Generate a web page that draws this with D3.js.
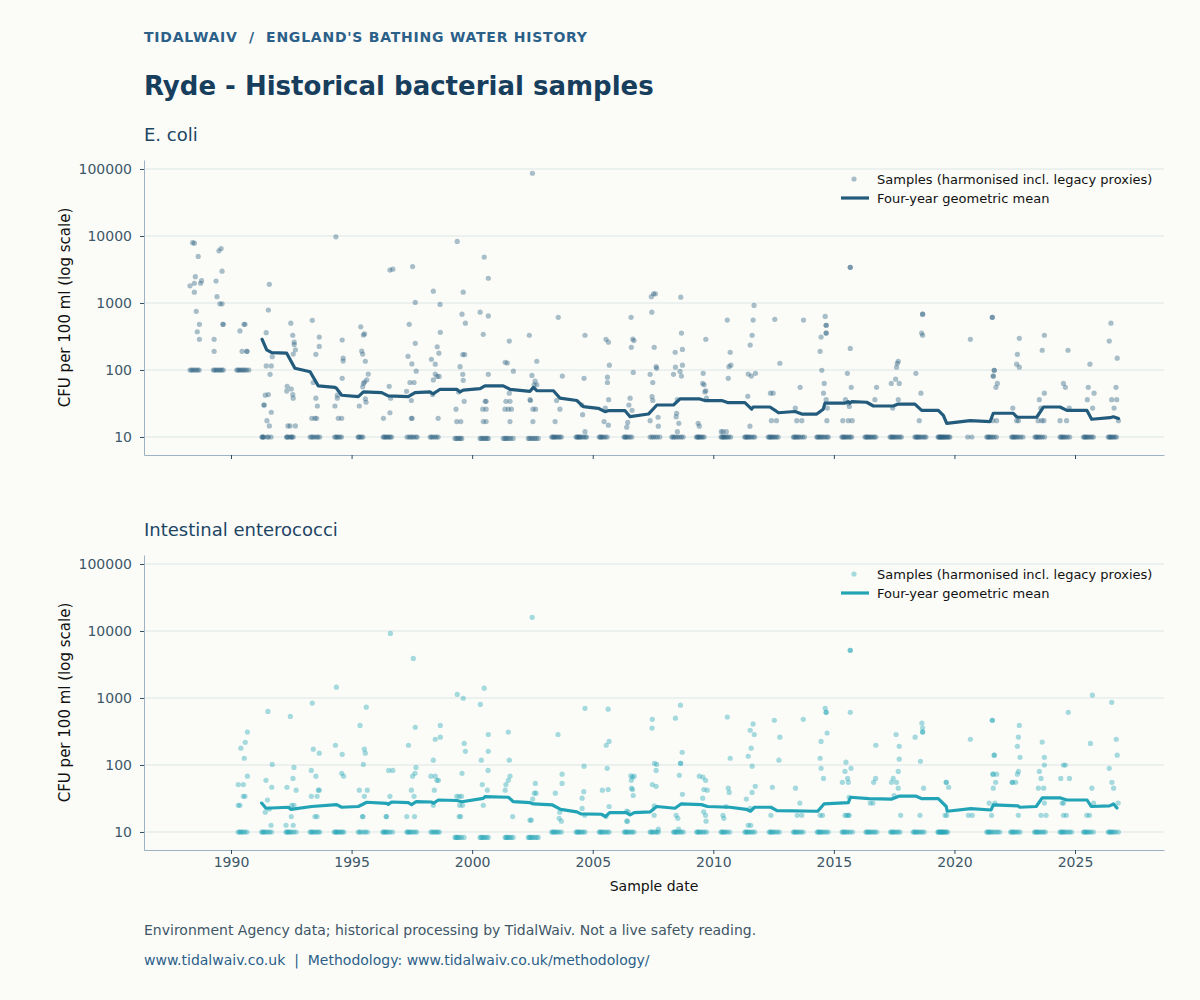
<!DOCTYPE html>
<html><head><meta charset="utf-8">
<script src="https://cdn.jsdelivr.net/npm/d3@7"></script>
<style>
html,body{margin:0;padding:0;background:#fbfcf8;}
svg{display:block;font-family:"DejaVu Sans",sans-serif;}
</style></head><body>
<svg id="chart" width="1200" height="1000"></svg>
<script>
// ---------- data ----------
const yearTicks = [1990, 1995, 2000, 2005, 2010, 2015, 2020, 2025];
const cfuTicks = [10, 100, 1000, 10000, 100000];
const panelTitles = ["E. coli", "Intestinal enterococci"];
const legendLabels = ["Samples (harmonised incl. legacy proxies)", "Four-year geometric mean"];

// E. coli samples [decimal year, CFU/100ml] (values above the reporting floor)
const ecoliSamples = [
 [1988.30,1800],[1988.41,7950],[1988.48,7800],[1988.48,1970],[1988.48,1450],[1988.52,2470],[1988.56,750],[1988.64,4950],[1988.69,480],[1988.60,372],[1988.69,287],[1988.74,1970],[1988.78,2150],
 [1988.30,100],[1988.36,100],[1988.42,100],[1988.48,100],[1988.55,100],[1988.62,100],[1988.68,100],
 [1989.30,287],[1989.30,190],[1989.38,2130],[1989.42,1240],[1989.50,6000],[1989.59,6500],[1989.63,2980],[1989.54,970],[1989.63,970],[1989.67,480],[1989.67,480],
 [1989.27,100],[1989.32,100],[1989.38,100],[1989.44,100],[1989.50,100],[1989.56,100],[1989.62,100],[1989.68,100],
 [1990.37,383],[1990.46,190],[1990.54,480],[1990.58,480],[1990.66,190],[1990.66,190],
 [1990.24,100],[1990.29,100],[1990.34,100],[1990.40,100],[1990.46,100],[1990.52,100],[1990.58,100],[1990.65,100],[1990.74,100],
 [1991.37,30],[1991.42,42],[1991.46,115],[1991.49,17.5],[1991.55,43],[1991.55,785],[1991.59,1900],[1991.59,14.6],[1991.62,86],[1991.67,115],[1991.67,23.4],[1991.71,158],[1991.46,360],[1991.37,30],
 [1992.31,48.5],[1992.33,57],[1992.36,14.6],[1992.48,500],[1992.50,52],[1992.56,43],[1992.56,330],[1992.58,38],[1992.58,173],[1992.62,260],[1992.62,240],[1992.67,200],[1992.67,14.6],[1992.45,14.6],
 [1993.37,550],[1993.66,310],[1993.66,225],[1993.52,171],[1993.41,65],[1993.52,38],[1993.58,29],[1993.35,19],[1993.48,19],[1993.55,19],
 [1994.35,9700],[1994.31,29],[1994.41,38],[1994.45,19],[1994.59,19],[1994.61,280],[1994.65,150],[1994.65,136],[1994.61,75],[1994.41,42],
 [1995.32,29],[1995.38,440],[1995.42,192],[1995.46,173],[1995.49,333],[1995.54,345],[1995.57,135],[1995.57,37],[1995.54,66],[1995.63,71],[1995.69,87],[1995.46,56],[1995.60,33],[1995.49,63],
 [1996.32,19],[1996.56,57],[1996.59,23],[1996.62,38],[1996.59,3100],[1996.71,3200],
 [1997.39,480],[1997.53,3500],[1997.64,1020],[1997.64,250],[1997.34,160],[1997.50,123],[1997.68,96],[1997.42,65],[1997.59,65],[1997.28,48],[1997.48,19],[1997.51,19],[1997.48,35],
 [1998.39,1500],[1998.67,950],[1998.68,365],[1998.55,222],[1998.62,178],[1998.31,144],[1998.47,122],[1998.47,87],[1998.55,80],[1998.63,80],[1998.39,71],[1998.59,19],[1998.36,43],
 [1999.38,8300],[1999.63,1450],[1999.58,680],[1999.72,500],[1999.61,170],[1999.69,170],[1999.50,112],[1999.61,86],[1999.63,70],[1999.67,34],[1999.33,26],[1999.36,17],[1999.53,17],[1999.44,47],
 [2000.50,4850],[2000.67,2340],[2000.33,730],[2000.67,640],[2000.46,340],[2000.67,86],[2000.54,34],[2000.58,34],[2000.44,26],[2000.58,26],[2000.46,17],[2000.58,17],
 [2001.37,130],[2001.46,127],[2001.54,270],[2001.71,96],[2001.40,34],[2001.57,34],[2001.36,26],[2001.50,26],[2001.63,26],[2001.54,45],[2001.57,17],
 [2002.50,86300],[2002.37,330],[2002.68,135],[2002.48,83],[2002.61,68],[2002.57,60],[2002.68,60],[2002.40,36],[2002.42,35],[2002.52,26],[2002.63,26],[2002.52,17],
 [2003.57,610],[2003.74,81],[2003.44,17],[2003.64,26],[2003.50,35],
 [2004.68,330],[2004.64,75],[2004.58,21.5],[2004.68,12],[2004.55,30],
 [2005.55,287],[2005.65,260],[2005.69,118],[2005.61,78],[2005.61,65],[2005.66,36],[2005.47,17],[2005.65,15],[2005.52,27],
 [2006.59,610],[2006.66,290],[2006.71,275],[2006.60,218],[2006.68,92],[2006.55,38],[2006.63,25],[2006.45,16.5],[2006.41,14],[2006.50,30],
 [2007.43,1240],[2007.52,1370],[2007.60,1370],[2007.45,730],[2007.55,218],[2007.63,112],[2007.65,106],[2007.38,86],[2007.49,65],[2007.46,40],[2007.49,35],[2007.71,19.7],[2007.38,17.5],[2007.72,14.5],
 [2008.65,1220],[2008.68,355],[2008.72,203],[2008.42,184],[2008.43,110],[2008.72,118],[2008.35,86],[2008.62,95],[2008.68,81],[2008.51,36],[2008.48,22.6],[2008.46,20],[2008.57,16],[2008.51,12],
 [2009.69,287],[2009.58,89],[2009.56,63],[2009.62,60],[2009.65,47],[2009.69,49],[2009.72,38],[2009.37,16],[2009.42,14.5],
 [2010.58,555],[2010.70,184],[2010.65,112],[2010.73,118],[2010.62,75],[2010.33,12],[2010.40,12],[2010.54,12],
 [2011.69,920],[2011.65,555],[2011.61,330],[2011.53,235],[2011.75,89],[2011.45,87],[2011.58,81],[2011.43,40.5],[2011.52,14.5],
 [2012.55,570],[2012.76,126],[2012.37,45],[2012.48,45],[2012.41,17.5],[2012.62,17.5],
 [2013.74,555],[2013.60,55],[2013.40,27],[2013.46,17.5],[2013.67,17.5],
 [2014.68,465],[2014.68,465],[2014.68,355],[2014.68,355],[2014.64,630],[2014.47,310],[2014.43,190],[2014.50,99],[2014.60,63],[2014.57,45],[2014.68,36],[2014.73,27],[2014.71,17.5],
 [2015.68,3400],[2015.68,3400],[2015.68,210],[2015.56,89],[2015.72,55],[2015.48,36],[2015.60,32],[2015.64,28.5],[2015.37,17.5],[2015.60,17.5],[2015.76,17.5],
 [2016.70,36],[2016.77,55],
 [2017.67,135],[2017.60,110],[2017.56,73],[2017.71,63],[2017.63,126],[2017.38,63],[2017.44,27],[2017.67,36],
 [2018.68,680],[2018.68,680],[2018.64,355],[2018.68,330],[2018.40,89],[2018.61,45],[2018.54,17.5],
 [2020.66,287],
 [2021.57,610],[2021.57,610],[2021.65,99],[2021.65,99],[2021.61,81],[2021.61,81],[2021.78,63],[2021.72,55],[2021.59,17.5],[2021.75,17.5],
 [2022.69,297],[2022.61,171],[2022.58,122],[2022.69,110],[2022.42,27],[2022.58,17.5],[2022.65,17.5],
 [2023.73,330],[2023.64,197],[2023.73,45],[2023.52,36],[2023.58,27],[2023.47,17.5],[2023.62,17.5],[2023.71,17.5],
 [2024.71,197],[2024.52,63],[2024.60,55],[2024.76,27],[2024.38,17.5],[2024.65,17.5],
 [2025.62,122],[2025.55,55],[2025.79,45],[2025.51,36],[2025.73,27],
 [2026.49,500],[2026.42,270],[2026.75,150],[2026.70,55],[2026.52,36],[2026.73,36],[2026.62,27],[2026.80,17.5]
];
// E. coli samples at the reporting floor (10) and slightly below (9.5)
const ecoliFloorValue = 10;
const ecoliFloorDates = [
 1991.28,1991.31,1991.33,1991.36,1991.50,1991.55,1991.66,
 1992.30,1992.33,1992.36,1992.45,1992.50,1992.53,1992.58,
 1993.28,1993.34,1993.40,1993.46,1993.55,1993.60,1993.68,
 1994.30,1994.35,1994.40,1994.44,1994.52,1994.58,
 1995.27,1995.30,1995.35,1995.41,1995.47,
 1996.31,1996.35,1996.40,1996.44,1996.50,1996.55,1996.60,1996.66,
 1997.30,1997.38,1997.44,1997.51,1997.57,1997.66,1997.72,
 1998.26,1998.31,1998.37,1998.45,1998.52,1998.59,
 2003.30,2003.34,2003.38,2003.42,2003.47,2003.52,2003.58,2003.64,2003.70,
 2004.31,2004.35,2004.38,2004.42,2004.46,2004.50,2004.56,2004.62,2004.70,2004.74,
 2005.27,2005.31,2005.35,2005.39,2005.45,2005.52,2005.60,
 2006.30,2006.33,2006.37,2006.42,2006.47,2006.55,2006.62,
 2007.38,2007.45,2007.52,2007.60,2007.68,2007.78,
 2008.28,2008.33,2008.38,2008.45,2008.52,2008.60,2008.68,2008.75,
 2009.30,2009.34,2009.37,2009.41,2009.45,2009.50,2009.56,2009.62,
 2010.32,2010.36,2010.40,2010.44,2010.48,2010.53,2010.58,2010.64,2010.72,
 2011.30,2011.34,2011.38,2011.42,2011.47,2011.52,2011.58,2011.66,2011.72,
 2012.28,2012.32,2012.36,2012.40,2012.45,2012.50,2012.56,2012.62,2012.69,
 2013.32,2013.36,2013.40,2013.45,2013.50,2013.55,2013.62,2013.70,2013.78,
 2014.29,2014.33,2014.37,2014.42,2014.47,2014.52,2014.58,2014.65,2014.72,2014.77,
 2015.33,2015.37,2015.41,2015.46,2015.50,2015.56,2015.62,2015.68,2015.74,
 2016.29,2016.33,2016.37,2016.41,2016.46,2016.51,2016.56,2016.62,2016.68,2016.74,
 2017.33,2017.37,2017.41,2017.45,2017.50,2017.55,2017.61,2017.67,2017.74,2017.80,
 2018.36,2018.40,2018.44,2018.48,2018.52,2018.57,2018.63,2018.70,2018.77,2018.82,
 2019.32,2019.35,2019.38,2019.41,2019.44,2019.47,2019.50,2019.53,2019.56,2019.60,2019.64,2019.68,2019.72,2019.77,2019.81,
 2020.55,2020.72,
 2021.34,2021.38,2021.42,2021.47,2021.52,2021.58,2021.65,2021.74,
 2022.37,2022.41,2022.45,2022.50,2022.55,2022.60,2022.67,2022.75,2022.84,
 2023.34,2023.38,2023.42,2023.47,2023.52,2023.58,2023.65,2023.74,
 2024.38,2024.42,2024.46,2024.51,2024.56,2024.62,2024.69,2024.78,
 2025.35,2025.39,2025.43,2025.47,2025.52,2025.57,2025.63,2025.70,2025.76,
 2026.38,2026.42,2026.46,2026.50,2026.55,2026.60,2026.66,2026.72
];
const ecoliSubFloorValue = 9.5;
const ecoliSubFloorDates = [
 1999.29,1999.34,1999.40,1999.46,1999.52,1999.57,
 2000.33,2000.38,2000.44,2000.50,2000.56,2000.62,2000.67,
 2001.29,2001.35,2001.40,2001.46,2001.53,2001.60,2001.70,
 2002.33,2002.38,2002.45,2002.52,2002.59,2002.66,2002.74
];
// E. coli four-year geometric mean
const ecoliMeanDates = [1991.29,1991.48,1991.69,1992.31,1992.65,1993.28,1993.62,1994.31,1994.38,1994.59,1995.28,1995.49,1996.25,1996.52,1997.35,1997.63,1998.25,1998.38,1998.67,1999.36,1999.50,1999.63,2000.33,2000.53,2001.29,2001.57,2002.40,2002.54,2002.68,2003.37,2003.64,2004.34,2004.61,2005.23,2005.51,2005.65,2006.34,2006.55,2007.31,2007.66,2008.35,2008.62,2009.44,2009.65,2010.35,2010.62,2011.31,2011.59,2011.65,2012.35,2012.56,2012.70,2013.39,2013.67,2014.29,2014.56,2014.63,2015.46,2015.60,2015.67,2015.74,2016.36,2016.64,2017.46,2017.67,2018.36,2018.64,2019.33,2019.54,2019.68,2020.65,2021.48,2021.61,2022.44,2022.58,2022.65,2023.41,2023.69,2024.38,2024.66,2025.49,2025.69,2026.45,2026.59,2026.80];
const ecoliMeanValues = [287,199,181,178,106,94,58,55,53,42,40,47,46,41,40,46,47,44,51.5,51.5,47,50,52.6,58,58,51.5,48,55,49,49,38,35,28.3,26.8,23.9,24.7,24.7,20.1,22,30,30,37,37,35,35,32.5,32.5,26,28,28,25,23,24,22,22,26,32,32,33.6,32,33.6,33,29,29,31,31,25,25,21,16,17.5,17,22.6,22.6,20,19.7,19.7,28,28,25,25,18.4,19.4,20,18.8];

// Intestinal enterococci samples [decimal year, CFU/100ml]
const enteroSamples = [
 [1990.30,51],[1990.37,25],[1990.30,25],[1990.41,178],[1990.51,51],[1990.51,34],[1990.55,126],[1990.59,218],[1990.68,310],[1990.68,68],[1990.58,34],
 [1991.45,59],[1991.53,630],[1991.51,30],[1991.69,46.5],[1991.71,102],[1991.42,19.7],[1991.66,12.6],[1991.59,22],
 [1992.46,530],[1992.61,92],[1992.57,63],[1992.32,46.5],[1992.70,42],[1992.52,25],[1992.61,25],[1992.50,17],[1992.58,12.6],[1992.28,12.6],
 [1993.37,840],[1993.41,172],[1993.33,83],[1993.52,68],[1993.62,42],[1993.66,42],[1993.33,34],[1993.57,34],[1993.48,17],[1993.57,17],[1993.66,150],
 [1994.37,1450],[1994.33,197],[1994.61,144],[1994.59,75],[1994.67,68],
 [1995.35,390],[1995.61,730],[1995.53,172],[1995.57,150],[1995.49,102],[1995.32,42],[1995.65,42],[1995.53,34],[1995.45,17],[1995.47,17],
 [1996.61,9200],[1996.54,83],[1996.71,83],[1996.59,34],[1996.43,17],[1996.45,17],
 [1997.56,3900],[1997.64,365],[1997.36,197],[1997.67,92],[1997.63,75],[1997.53,68],[1997.48,42],[1997.59,34],[1997.29,17],[1997.61,17],
 [1998.68,390],[1998.68,260],[1998.47,242],[1998.39,118],[1998.29,68],[1998.47,68],[1998.60,59],[1998.54,59],[1998.43,42],[1998.39,25],
 [1999.38,1130],[1999.63,990],[1999.67,210],[1999.72,160],[1999.58,75],[1999.36,34],[1999.46,34],[1999.56,34],[1999.48,25],[1999.60,25],[1999.46,17],[1999.52,17],
 [2000.34,800],[2000.50,1400],[2000.38,118],[2000.67,285],[2000.67,160],[2000.66,83],[2000.42,51],[2000.63,42],[2000.46,25],
 [2001.50,310],[2001.54,118],[2001.57,68],[2001.50,59],[2001.40,51],[2001.37,42],[2001.68,17],
 [2002.49,16000],[2002.62,53],[2002.58,38],[2002.65,38],[2002.51,31],[2002.40,15],[2002.45,15],
 [2003.56,285],[2003.73,73],[2003.73,53],[2003.45,38],[2003.63,19.7],[2003.70,14.5],[2003.61,16],
 [2004.68,700],[2004.64,96],[2004.63,40],[2004.56,32],[2004.56,22.5],[2004.67,17.7],
 [2005.64,680],[2005.68,225],[2005.56,197],[2005.60,89],[2005.64,43],[2005.40,42],[2005.68,24],[2005.55,17],
 [2006.58,69],[2006.65,66],[2006.72,68],[2006.60,59],[2006.61,45],[2006.65,43],[2006.68,35],[2006.41,20.5],[2006.47,20],[2006.41,14.5],[2006.44,14.5],
 [2007.47,480],[2007.46,355],[2007.56,106],[2007.65,102],[2007.63,83],[2007.47,51],[2007.63,48],[2007.55,24.5],[2007.55,17.7],[2007.72,11],
 [2008.64,780],[2008.43,500],[2008.71,155],[2008.64,106],[2008.65,106],[2008.59,70],[2008.72,36.5],[2008.46,17.7],[2008.53,16],[2008.56,11],
 [2009.42,68],[2009.57,66],[2009.68,59],[2009.61,43],[2009.75,42],[2009.56,32],[2009.60,20],[2009.68,17.7],[2009.70,14.5],
 [2010.58,520],[2010.70,126],[2010.62,45],[2010.66,39],[2010.40,17.7],[2010.44,16],[2010.53,24],
 [2011.53,330],[2011.65,410],[2011.70,285],[2011.57,178],[2011.45,135],[2011.61,96],[2011.74,48],[2011.61,39],[2011.37,31],[2011.52,22.5],[2011.45,12.6],[2011.55,12.6],
 [2012.53,465],[2012.76,260],[2012.72,118],[2012.45,46.5],[2012.39,17.7],
 [2013.73,480],[2013.41,45],[2013.59,27],[2013.48,17.7],[2013.67,17.7],
 [2014.64,700],[2014.68,610],[2014.68,610],[2014.72,300],[2014.47,225],[2014.43,126],[2014.47,89],[2014.57,63],[2014.43,17.7],[2014.53,17.7],
 [2015.68,5150],[2015.68,5150],[2015.68,610],[2015.50,110],[2015.46,80],[2015.57,63],[2015.60,55],[2015.35,55],[2015.71,89],[2015.63,33],[2015.60,17.7],[2015.46,17.7],[2015.53,17.7],[2015.63,17.7],
 [2016.74,197],[2016.73,63],[2016.65,55],[2016.51,27],[2016.62,27],
 [2017.58,285],[2017.71,190],[2017.71,122],[2017.67,80],[2017.39,55],[2017.60,55],[2017.46,63],[2017.67,45],[2017.50,35],[2017.77,17.7],
 [2018.37,260],[2018.65,420],[2018.68,355],[2018.68,310],[2018.68,310],[2018.59,113],[2018.72,45],[2018.57,17.7],
 [2019.66,55],[2019.66,55],[2019.76,46.5],[2019.61,17.7],[2019.68,17.7],
 [2020.66,242],[2020.58,17.7],[2020.74,17.7],
 [2021.57,465],[2021.57,465],[2021.65,140],[2021.65,140],[2021.60,73],[2021.60,73],[2021.75,73],[2021.71,55],[2021.61,45],[2021.44,27],[2021.68,27],[2021.54,17.7],
 [2022.69,390],[2022.65,260],[2022.61,190],[2022.72,130],[2022.65,80],[2022.61,73],[2022.40,55],[2022.40,55],[2022.54,55],[2022.65,17.7],
 [2023.64,220],[2023.73,130],[2023.73,100],[2023.52,80],[2023.59,63],[2023.48,45],[2023.70,45],[2023.73,27],[2023.59,17.7],[2023.80,17.7],
 [2024.72,610],[2024.52,100],[2024.60,100],[2024.41,63],[2024.77,63],[2024.47,27],[2024.52,27],[2024.52,17.7],[2024.64,17.7],
 [2025.72,1100],[2025.64,210],[2025.70,45],[2025.49,17.7],[2025.60,17.7],[2025.77,27],
 [2026.52,860],[2026.71,242],[2026.75,140],[2026.42,89],[2026.53,55],[2026.60,45],[2026.79,27]
];
const enteroFloorValue = 10;
const enteroFloorDates = [
 1990.30,1990.35,1990.40,1990.45,1990.51,1990.58,1990.66,
 1991.27,1991.31,1991.35,1991.40,1991.46,1991.53,1991.60,1991.68,
 1992.28,1992.32,1992.36,1992.40,1992.46,1992.52,1992.60,1992.70,
 1993.28,1993.32,1993.37,1993.42,1993.48,1993.55,1993.62,1993.68,
 1994.28,1994.32,1994.36,1994.40,1994.45,1994.50,1994.56,1994.62,1994.68,
 1995.28,1995.33,1995.40,1995.50,1995.58,1995.66,
 1996.29,1996.33,1996.37,1996.41,1996.46,1996.52,1996.60,1996.70,
 1997.29,1997.33,1997.37,1997.42,1997.48,1997.55,1997.63,1997.70,
 1998.29,1998.34,1998.40,1998.46,1998.52,1998.58,1998.64,
 2003.30,2003.34,2003.38,2003.43,2003.48,2003.54,2003.61,2003.70,
 2004.31,2004.35,2004.39,2004.43,2004.48,2004.54,2004.61,2004.68,
 2005.27,2005.31,2005.35,2005.40,2005.46,2005.53,2005.61,2005.68,
 2006.31,2006.35,2006.39,2006.44,2006.50,2006.57,2006.64,2006.71,
 2007.38,2007.42,2007.47,2007.53,2007.60,2007.67,2007.72,
 2008.35,2008.39,2008.43,2008.48,2008.54,2008.61,2008.68,2008.76,
 2009.31,2009.35,2009.39,2009.44,2009.50,2009.57,2009.64,2009.72,
 2010.32,2010.36,2010.40,2010.45,2010.51,2010.58,2010.68,
 2011.31,2011.35,2011.39,2011.44,2011.50,2011.57,2011.64,2011.72,
 2012.32,2012.36,2012.40,2012.45,2012.51,2012.58,2012.66,2012.74,
 2013.32,2013.36,2013.40,2013.45,2013.51,2013.58,2013.65,2013.73,
 2014.31,2014.35,2014.39,2014.43,2014.48,2014.54,2014.61,2014.69,2014.77,
 2015.34,2015.38,2015.42,2015.47,2015.53,2015.60,2015.68,2015.78,
 2016.33,2016.37,2016.41,2016.46,2016.51,2016.57,2016.64,2016.70,2016.78,
 2017.35,2017.39,2017.43,2017.48,2017.53,2017.60,2017.67,2017.74,
 2018.29,2018.33,2018.37,2018.42,2018.47,2018.53,2018.60,2018.67,2018.75,
 2019.31,2019.34,2019.37,2019.40,2019.43,2019.46,2019.49,2019.52,2019.55,2019.59,2019.63,2019.67,2019.72,
 2021.34,2021.38,2021.42,2021.46,2021.51,2021.57,2021.64,2021.72,2021.80,2021.88,
 2022.33,2022.37,2022.41,2022.46,2022.51,2022.57,2022.64,2022.72,
 2023.32,2023.36,2023.40,2023.45,2023.50,2023.56,2023.63,2023.70,2023.77,
 2024.38,2024.42,2024.46,2024.51,2024.56,2024.62,2024.70,2024.78,2024.86,
 2025.35,2025.39,2025.43,2025.48,2025.53,2025.59,2025.66,2025.76,
 2026.38,2026.42,2026.46,2026.51,2026.56,2026.62,2026.69,2026.80
];
const enteroSubFloorValue = 8.3;
const enteroSubFloorDates = [
 1999.29,1999.33,1999.37,1999.42,1999.48,1999.55,1999.66,
 2000.33,2000.37,2000.42,2000.47,2000.53,2000.60,2000.67,
 2001.37,2001.41,2001.45,2001.50,2001.56,2001.62,2001.70,
 2002.33,2002.37,2002.42,2002.47,2002.53,2002.60,2002.67,2002.74
];
const enteroMeanDates = [1991.27,1991.45,1992.38,1992.48,1993.35,1994.38,1994.59,1995.28,1995.63,1996.46,1996.52,1996.66,1997.35,1997.49,1997.67,1998.32,1998.39,1998.60,1999.36,1999.57,2000.46,2000.53,2001.50,2001.71,2002.40,2002.54,2003.33,2003.67,2004.34,2004.51,2005.36,2005.53,2005.70,2006.38,2006.55,2006.72,2007.39,2007.65,2008.41,2008.66,2009.51,2009.76,2010.69,2011.37,2011.54,2011.71,2012.39,2012.64,2014.33,2014.59,2015.60,2015.69,2016.45,2017.38,2017.72,2018.39,2018.65,2019.33,2019.66,2019.70,2020.68,2021.52,2021.61,2022.63,2022.71,2023.39,2023.64,2024.40,2024.66,2025.50,2025.67,2026.43,2026.60,2026.74];
const enteroMeanValues = [27,22.6,23.4,21.8,24,25.6,23.4,24,27.8,26.8,25.8,28,27.4,25.6,28.3,28,26.8,30,29.5,28.3,31.8,33.6,33,28.3,27.4,26.2,25.3,21.8,20,18.6,18.4,17,19.4,19.4,18,19.4,20,24,22.6,26.2,25.6,24,23.4,21.8,20.4,23.4,23.4,20.8,20.4,26.2,27.4,33,31.4,30.9,34.4,34.4,31.4,31.4,24,20.4,22.3,21.3,25.3,24.6,23.4,24,32.2,32.2,30,30,24,24.5,26.2,22.8];

// ---------- drawing ----------
const svg = d3.select("#chart");
svg.append("rect").attr("width",1200).attr("height",1000).attr("fill","#fbfcf8");

const L = 144, R = 1164;
const x = d3.scaleLinear().domain([1986.392, 2028.69]).range([L, R]);
const yDomain = [Math.pow(10,0.731), Math.pow(10,5.134)];

svg.append("text").attr("x",L).attr("y",42)
  .attr("font-size",14).attr("font-weight","bold").attr("fill","#2b6089")
  .attr("textLength",443).attr("lengthAdjust","spacing")
  .style("white-space","pre")
  .text("TIDALWAIV  /  ENGLAND'S BATHING WATER HISTORY");
svg.append("text").attr("x",L).attr("y",95)
  .attr("font-size",26).attr("font-weight","bold").attr("fill","#173e5d")
  .text("Ryde - Historical bacterial samples");

function drawPanel(opt){
  const top = opt.top, bottom = opt.top + 295;
  const y = d3.scaleLog().domain(yDomain).range([bottom, top]);
  const g = svg.append("g");

  g.append("text").attr("x",L).attr("y",top-19)
    .attr("font-size",18).attr("fill","#1d4564").text(opt.title);

  // grid
  g.selectAll("line.grid").data(cfuTicks).join("line")
    .attr("x1",L).attr("x2",R).attr("y1",d=>y(d)).attr("y2",d=>y(d))
    .attr("stroke","#dce6e6").attr("stroke-width",1);

  // y axis
  const ya = g.append("g").attr("transform",`translate(${L},0)`)
    .call(d3.axisLeft(y).tickValues(cfuTicks).tickFormat(d3.format("d")).tickSize(4).tickPadding(8).tickSizeOuter(0));
  ya.select(".domain").attr("stroke","#9db3c3");
  ya.selectAll(".tick line").attr("stroke","#2e4d63");
  ya.selectAll(".tick text").attr("fill","#3d5768").attr("font-size",14).attr("font-family","DejaVu Sans");

  // x axis
  const xa = g.append("g").attr("transform",`translate(0,${bottom})`)
    .call(d3.axisBottom(x).tickValues(yearTicks).tickFormat(opt.showX ? d3.format("d") : "").tickSize(4).tickSizeOuter(0));
  xa.select(".domain").attr("stroke","#9db3c3");
  xa.selectAll(".tick line").attr("stroke","#2e4d63");
  xa.selectAll(".tick text").attr("fill","#3d5768").attr("font-size",14).attr("font-family","DejaVu Sans");

  // y label
  g.append("text").attr("transform",`translate(70,${(top+bottom)/2}) rotate(-90)`)
    .attr("text-anchor","middle").attr("font-size",15).attr("fill","#111")
    .text("CFU per 100 ml (log scale)");

  // points
  const pts = opt.samples.concat(
    opt.floorDates.map(d=>[d, opt.floorValue]),
    opt.subDates.map(d=>[d, opt.subValue]));
  g.append("g").selectAll("circle").data(pts).join("circle")
    .attr("cx",d=>x(d[0])).attr("cy",d=>y(d[1])).attr("r",2.6)
    .attr("fill",opt.color).attr("fill-opacity",0.4);

  // mean line
  const line = d3.line().x(d=>x(d[0])).y(d=>y(d[1]));
  g.append("path").datum(opt.meanDates.map((d,i)=>[d, opt.meanValues[i]]))
    .attr("d",line).attr("fill","none").attr("stroke",opt.lineColor)
    .attr("stroke-width",3.2).attr("stroke-linejoin","round").attr("stroke-linecap","round");

  // legend
  g.append("circle").attr("cx",854).attr("cy",top+19).attr("r",2.6)
    .attr("fill",opt.color).attr("fill-opacity",0.4);
  g.append("text").attr("x",877).attr("y",top+24).attr("font-size",13).attr("fill","#111").text(legendLabels[0]);
  g.append("line").attr("x1",841).attr("x2",869).attr("y1",top+38).attr("y2",top+38)
    .attr("stroke",opt.lineColor).attr("stroke-width",3.2);
  g.append("text").attr("x",877).attr("y",top+43).attr("font-size",13).attr("fill","#111").text(legendLabels[1]);
}

drawPanel({top:160, title:panelTitles[0], showX:false,
  samples:ecoliSamples, floorDates:ecoliFloorDates, floorValue:ecoliFloorValue,
  subDates:ecoliSubFloorDates, subValue:ecoliSubFloorValue,
  meanDates:ecoliMeanDates, meanValues:ecoliMeanValues,
  color:"#2a5e80", lineColor:"#235b7c"});
drawPanel({top:555, title:panelTitles[1], showX:true,
  samples:enteroSamples, floorDates:enteroFloorDates, floorValue:enteroFloorValue,
  subDates:enteroSubFloorDates, subValue:enteroSubFloorValue,
  meanDates:enteroMeanDates, meanValues:enteroMeanValues,
  color:"#22a5b7", lineColor:"#22a4b6"});

svg.append("text").attr("x",(L+R)/2).attr("y",891).attr("text-anchor","middle")
  .attr("font-size",14).attr("fill","#111").text("Sample date");

svg.append("text").attr("x",L).attr("y",935).attr("font-size",14).attr("fill","#3e5667")
  .text("Environment Agency data; historical processing by TidalWaiv. Not a live safety reading.");
svg.append("text").attr("x",L).attr("y",965).attr("font-size",14).attr("fill","#2b6089")
  .style("white-space","pre")
  .text("www.tidalwaiv.co.uk  |  Methodology: www.tidalwaiv.co.uk/methodology/");
</script>
</body></html>
